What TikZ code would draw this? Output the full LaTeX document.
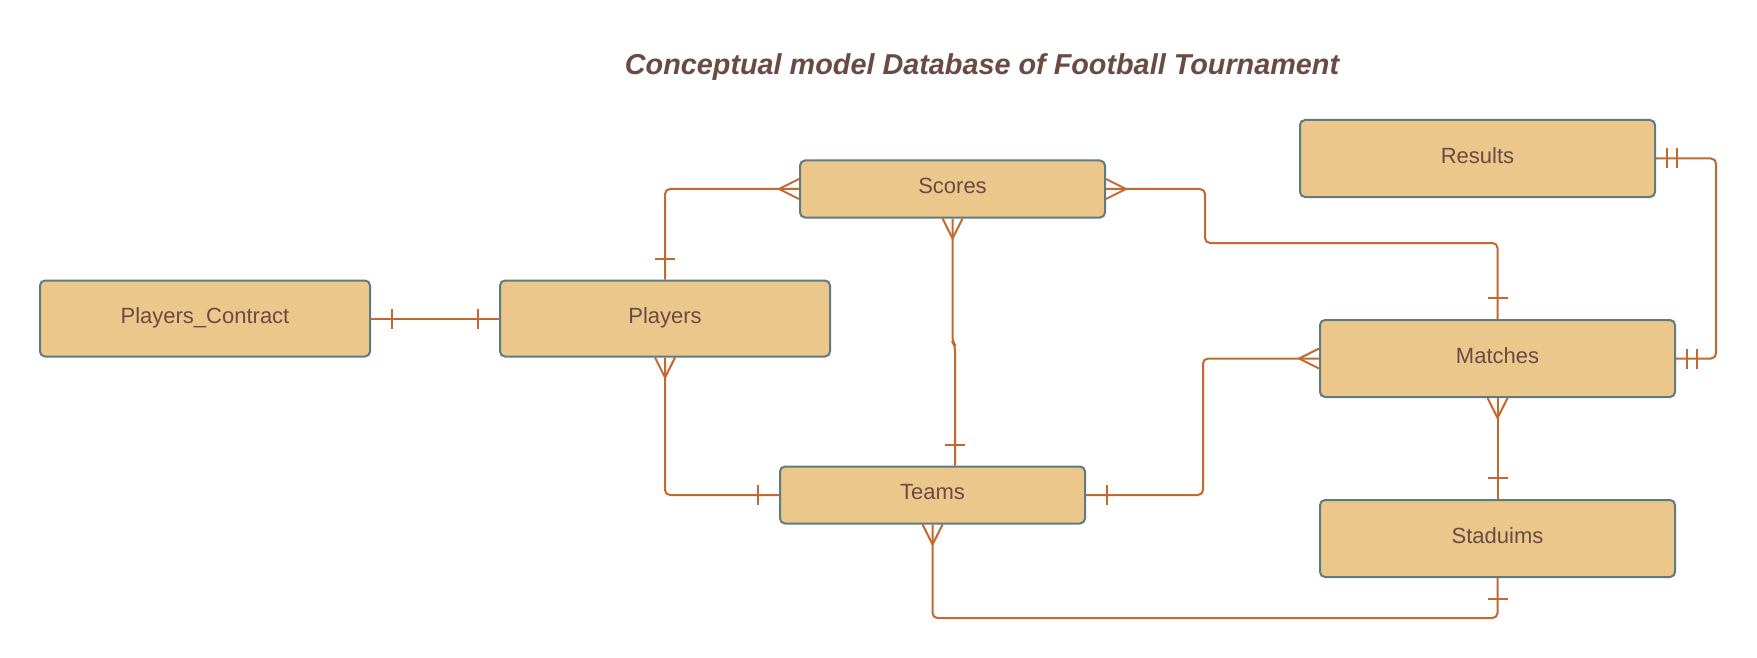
\documentclass[tikz,border=0pt]{standalone}
\usepackage{fontspec}
\setmainfont{Liberation Sans}
\definecolor{boxfill}{HTML}{EBC78B}
\definecolor{boxline}{HTML}{5E7B80}
\definecolor{connline}{HTML}{C4682F}
\definecolor{txt}{HTML}{6A4B44}
\tikzset{
  entity/.style={draw=boxline, fill=boxfill, line width=2pt, rounded corners=5pt,
    inner sep=0pt, text=txt, font=\fontsize{22}{26}\selectfont,
    text height=15.8pt, text depth=6pt},
  conn/.style={draw=connline, line width=2pt, rounded corners=5pt},
  cardmark/.style={draw=connline, line width=2pt},
  crowfoot/.pic={\draw[cardmark] (0,10) -- (20,0) -- (0,-10);},
  onebar/.pic={\draw[cardmark] (21,-10) -- (21,10);},
  twobar/.pic={\draw[cardmark] (11,-10) -- (11,10) (21,-10) -- (21,10);},
}
\begin{document}
\begin{tikzpicture}[x=1pt,y=1pt]
\useasboundingbox (0,0) rectangle (1757,-658);
\fill[white] (0,0) rectangle (1757,-658);

\node[text=txt, font=\fontsize{28.8}{34}\selectfont\bfseries\itshape, anchor=base] (title) at (982,-75) {Conceptual model Database of Football Tournament};

\node[entity, minimum width=330, minimum height=76] (pc) at (205,-318.5) {Players\_Contract};
\node[entity, minimum width=330, minimum height=76] (players) at (665,-318.5) {Players};
\node[entity, minimum width=305, minimum height=57] (scores) at (952.5,-189) {Scores};
\node[entity, minimum width=355, minimum height=77] (results) at (1477.5,-158.5) {Results};
\node[entity, minimum width=355, minimum height=77] (matches) at (1497.5,-358.5) {Matches};
\node[entity, minimum width=305, minimum height=57] (teams) at (932.5,-495) {Teams};
\node[entity, minimum width=355, minimum height=77] (stad) at (1497.5,-538.5) {Staduims};

\coordinate (tn) at ([xshift=22.5]teams.north);
\coordinate (jogA) at (952.5,-342);
\coordinate (jogB) at (955,-345);
\coordinate (c1) at (1205,-243);
\coordinate (c2) at (1716,-260);
\coordinate (c3) at (1203,-420);
\coordinate (c4) at (1200,-618);

% connectors
\draw[conn] (pc.east) -- (players.west);
\draw[conn] (players.north) |- (scores.west);
\draw[conn] (scores.south) -- (jogA) -- (jogB) -- (tn);
\draw[conn] (scores.east) -| (c1) -| (matches.north);
\draw[conn] (results.east) -| (c2) |- (matches.east);
\draw[conn] (matches.west) -| (c3) |- (teams.east);
\draw[conn] (players.south) |- (teams.west);
\draw[conn] (matches.south) -- (stad.north);
\draw[conn] (teams.south) |- (c4) -| (stad.south);

% cardinality marks
\pic at (pc.east) {onebar};
\pic[rotate=180] at (players.west) {onebar};
\pic[rotate=180] at (scores.west) {crowfoot};
\pic[rotate=90] at (players.north) {onebar};
\pic[rotate=-90] at (scores.south) {crowfoot};
\pic[rotate=90] at (tn) {onebar};
\pic at (scores.east) {crowfoot};
\pic[rotate=90] at (matches.north) {onebar};
\pic at (results.east) {twobar};
\pic at (matches.east) {twobar};
\pic[rotate=180] at (matches.west) {crowfoot};
\pic at (teams.east) {onebar};
\pic[rotate=-90] at (players.south) {crowfoot};
\pic[rotate=180] at (teams.west) {onebar};
\pic[rotate=-90] at (matches.south) {crowfoot};
\pic[rotate=90] at (stad.north) {onebar};
\pic[rotate=-90] at (teams.south) {crowfoot};
\pic[rotate=-90] at (stad.south) {onebar};
\end{tikzpicture}
\end{document}
